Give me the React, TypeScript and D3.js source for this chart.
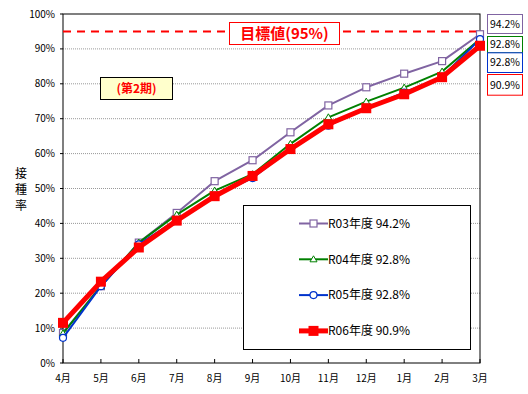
import React from "react";
import * as d3 from "d3";

const months = ["4月", "5月", "6月", "7月", "8月", "9月", "10月", "11月", "12月", "1月", "2月", "3月"];
const r03 = [8.6, 22, 34.5, 43, 52.1, 58.1, 66.1, 73.8, 79, 82.9, 86.5, 94.2];
const r04 = [8.5, 22, 34.5, 42.5, 49.4, 54.1, 62.8, 70.4, 74.9, 78.9, 83.5, 92.8];
const r05 = [7.2, 22, 34, 41, 48, 53, 61.5, 68, 73, 77.5, 82, 92.8];
const r06 = [11.5, 23.3, 33.1, 40.8, 47.8, 53.6, 61.3, 68.4, 73, 77, 81.9, 90.9];
const yTicks = [0, 10, 20, 30, 40, 50, 60, 70, 80, 90, 100];
const target = 95;

const series = [
    {name: "R03年度", last: "94.2%", values: r03, color: "#8064A2", width: 2, marker: "square"},
    {name: "R04年度", last: "92.8%", values: r04, color: "#008000", width: 2, marker: "triangle"},
    {name: "R05年度", last: "92.8%", values: r05, color: "#0033CC", width: 2, marker: "circle"},
    {name: "R06年度", last: "90.9%", values: r06, color: "#FF0000", width: 5, marker: "filled"},
];

const W = 528, H = 394;
const left = 63, right = 480, top = 14, bottom = 363;
const font = "'MS PGothic','Noto Sans CJK JP',sans-serif";

const Marker = ({kind, x, y, color}) => {
    if (kind === "square") return <rect x={x - 3.5} y={y - 3.5} width={7} height={7} fill="#fff" stroke={color} strokeWidth={1.2}/>;
    if (kind === "triangle") return <path d={`M${x},${y - 3.5}L${x + 3.5},${y + 2.5}L${x - 3.5},${y + 2.5}Z`} fill="#fff" stroke={color} strokeWidth={1}/>;
    if (kind === "circle") return <circle cx={x} cy={y} r={3.5} fill="#fff" stroke={color} strokeWidth={1.2}/>;
    return <rect x={x - 5} y={y - 5} width={10} height={10} fill={color}/>;
};

const App = () => {
    const x = d3.scalePoint().domain(months).range([left, right]);
    const y = d3.scaleLinear().domain([0, 100]).range([bottom, top]);
    const line = d3.line<number>().x((d, i) => x(months[i])).y(d => y(d));

    const boxes = [
        {s: series[0], y0: 14, y1: 33},
        {s: series[1], y0: 36, y1: 52.3},
        {s: series[2], y0: 52.3, y1: 72},
        {s: series[3], y0: 74, y1: 94.7},
    ];

    return (
        <svg width={W} height={H} viewBox={`0 0 ${W} ${H}`}
             style={{position: "absolute", left: 0, top: 0, background: "#fff"}} fontFamily={font}>
            <rect x={0} y={0} width={W} height={H} fill="#fff"/>
            {/* grid */}
            {yTicks.filter(t => t > 0 && t < 100).map(t => (
                <line key={t} x1={left} x2={right} y1={y(t)} y2={y(t)} stroke="#999" strokeDasharray="1,1"/>
            ))}
            <rect x={left} y={top} width={right - left} height={bottom - top} fill="none" stroke="#000"/>
            {/* y axis */}
            {yTicks.map(t => (
                <g key={t}>
                    <line x1={left - 3} x2={left} y1={y(t)} y2={y(t)} stroke="#000"/>
                    <text x={55} y={y(t)} dy="0.35em" textAnchor="end" fontSize={10}>{t}%</text>
                </g>
            ))}
            {["接", "種", "率"].map((c, i) => (
                <text key={c} x={21} y={178 + i * 16} textAnchor="middle" fontSize={12}>{c}</text>
            ))}
            {/* x axis */}
            {months.map(m => (
                <g key={m}>
                    <line x1={x(m)} x2={x(m)} y1={bottom} y2={bottom - 4} stroke="#000"/>
                    <text x={x(m)} y={382} textAnchor="middle" fontSize={10}>{m}</text>
                </g>
            ))}
            {/* target */}
            <line x1={left} x2={right} y1={y(target)} y2={y(target)} stroke="#FF0000" strokeWidth={2} strokeDasharray="8,6"/>
            <rect x={229.5} y={22.5} width={110} height={22} fill="#fff" stroke="#FF0000"/>
            <text x={284.5} y={39} textAnchor="middle" fontSize={15} fontWeight="bold" fill="#FF0000">目標値(95%)</text>
            <rect x={100.5} y={77.5} width={72} height={22} fill="#FFFFCC" stroke="#000"/>
            <text x={136.5} y={93} textAnchor="middle" fontSize={12} fontWeight="bold" fill="#FF0000">(第2期)</text>
            {/* lines */}
            {series.map(s => (
                <g key={s.name}>
                    <path d={line(s.values)} fill="none" stroke={s.color} strokeWidth={s.width} strokeLinejoin="round"/>
                    {s.values.map((v, i) => <Marker key={i} kind={s.marker} x={x(months[i])} y={y(v)} color={s.color}/>)}
                </g>
            ))}
            {/* legend */}
            <rect x={243.5} y={205.5} width={227} height={144} fill="#fff" stroke="#000"/>
            {series.map((s, i) => {
                const ly = 223.5 + i * 35.8;
                return (
                    <g key={s.name}>
                        <line x1={299} x2={328} y1={ly} y2={ly} stroke={s.color} strokeWidth={s.width}/>
                        <Marker kind={s.marker} x={313.5} y={ly} color={s.color}/>
                        <text x={328} y={ly} dy="0.36em" fontSize={12}>{s.name} {s.last}</text>
                    </g>
                );
            })}
            {/* end labels */}
            {boxes.map(b => (
                <g key={b.s.name}>
                    <rect x={487.5} y={b.y0 + 0.5} width={35} height={b.y1 - b.y0} fill="#fff" stroke={b.s.color}/>
                    <text x={505} y={(b.y0 + b.y1) / 2 + 0.5} dy="0.35em" textAnchor="middle" fontSize={10.5}>{b.s.last}</text>
                </g>
            ))}
        </svg>
    );
};

export default App;
